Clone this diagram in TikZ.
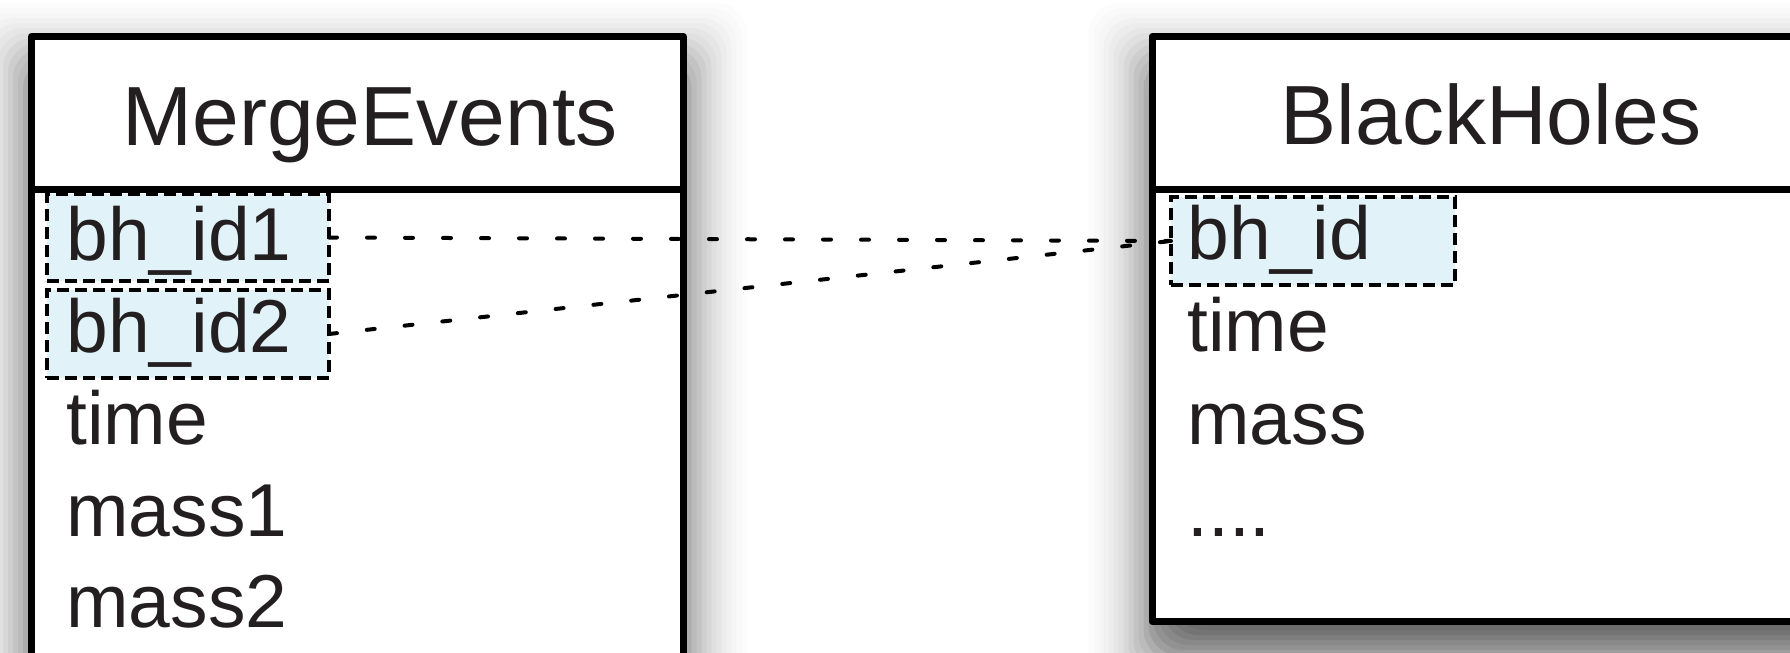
\documentclass[tikz,border=0pt]{standalone}
\usepackage{fontspec}
\setmainfont{Liberation Sans}
\definecolor{ink}{HTML}{231F20}
\definecolor{keyfill}{HTML}{E1F2F9}
\tikzset{
  frame/.style={draw=black, line width=3.5pt, fill=white, line join=round, inner sep=0pt, outer sep=0pt},
  headrule/.style={draw=black, line width=3.5pt},
  keybox/.style={draw=black, fill=keyfill, line width=1.8pt, dash pattern=on 6pt off 3pt, inner sep=0pt, outer sep=0pt},
  link/.style={draw=black, line width=2pt, line cap=round, dash pattern=on 4pt off 15pt},
  titletext/.style={text=ink, font=\fontsize{42}{50}\selectfont, inner sep=0pt, anchor=base},
  field/.style={text=ink, font=\fontsize{37.5}{45}\selectfont, inner sep=0pt, anchor=base west},
}
% soft shadow: outer edges x1,y1,x2,y2 (px, y downward)
\newcommand\myshadow[4]{%
  \foreach \e/\a in {-30/0.065,-25/0.065,-20/0.065,-15/0.065,-10/0.065,-5/0.065,0/0.09,5/0.07,10/0.045,15/0.045,20/0.035,25/0.035,30/0.022,35/0.022,40/0.02,45/0.02,50/0.013,55/0.013,60/0.013}{%
    \fill[black, opacity=\a, rounded corners=15pt] ({#1-\e},{#2+30-\e}) rectangle ({#3+\e},{#4+30+\e});}%
}
\begin{document}
\begin{tikzpicture}[x=0.5pt, y=-0.5pt]
\useasboundingbox (0,0) rectangle (1790,653);
\fill[white] (0,0) rectangle (1790,653);
\clip (0,0) rectangle (1790,653);
% shadows
\myshadow{28}{33}{686.5}{725}
\myshadow{1148.5}{33}{1905}{625}
% entity frames
\node[frame, minimum width=325.75pt, minimum height=341.75pt] (me) at (357.25,378.25) {};
\node[frame, minimum width=374pt, minimum height=292.5pt] (bh) at (1526,329) {};
\draw[headrule] (31.5,189.5) -- (683,189.5);
\draw[headrule] (1152,189.5) -- (1900,189.5);
% key highlights
\node[keybox, minimum width=141pt, minimum height=43.5pt] (k1) at (188,237.5) {};
\node[keybox, minimum width=141pt, minimum height=44pt] (k2) at (188,334) {};
\node[keybox, minimum width=142pt, minimum height=43.75pt] (k3) at (1313,241) {};
% titles
\node[titletext] (t1) at (370,145) {MergeEvents};
\node[titletext] (t2) at (1491,144) {BlackHoles};
% fields
\node[field] (f1) at (66,260) {bh\_id1};
\node[field] (f2) at (66,352) {bh\_id2};
\node[field] (f3) at (66,444) {time};
\node[field] (f4) at (66,536) {mass1};
\node[field] (f5) at (66,627) {mass2};
\node[field] (g1) at (1187,259) {bh\_id};
\node[field] (g2) at (1187,351) {time};
\node[field] (g3) at (1187,444) {mass};
\node[field] (g4) at (1187,536) {....};
% connectors
\draw[link] (k1.east) -- (k3.west);
\draw[link] (k2.east) -- (k3.west);
\end{tikzpicture}
\end{document}
